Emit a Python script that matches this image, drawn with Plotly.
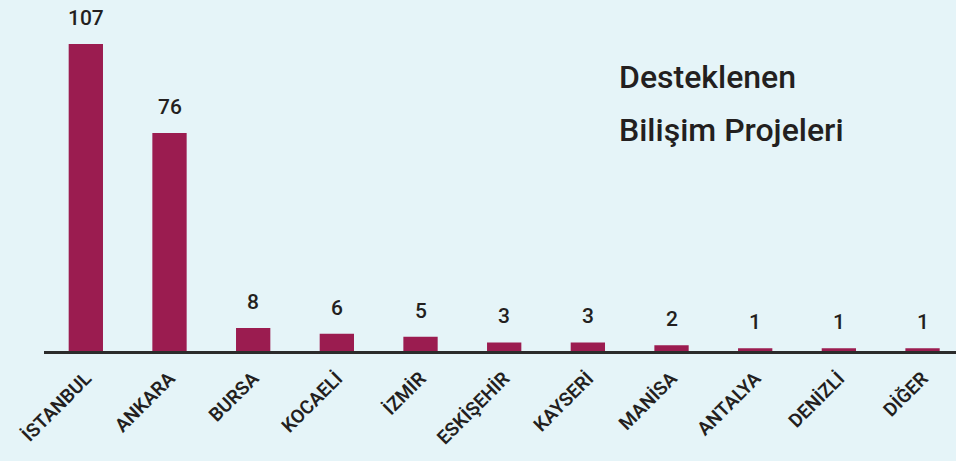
import plotly.graph_objects as go

cities = ["İSTANBUL", "ANKARA", "BURSA", "KOCAELİ", "İZMİR", "ESKİŞEHİR",
          "KAYSERİ", "MANİSA", "ANTALYA", "DENİZLİ", "DİĞER"]
projects = [107, 76, 8, 6, 5, 3, 3, 2, 1, 1, 1]

title_lines = ["Desteklenen", "Bilişim Projeleri"]

BG = "#e5f4f8"
BAR = "#9b1c50"
TXT = "#231f20"
FONT = "Roboto"

fig = go.Figure()
fig.add_trace(go.Bar(
    x=list(range(len(cities))), y=projects,
    marker=dict(color=BAR, line=dict(width=0)),
    width=0.41,
    hoverinfo="skip",
))

for i, v in enumerate(projects):
    fig.add_annotation(x=i, y=v, text=str(v), showarrow=False,
                       yanchor="bottom", yshift=12,
                       font=dict(family=FONT, size=21, color=TXT, weight=500))

for j, line in enumerate(title_lines):
    fig.add_annotation(
        x=(617 - 44) / (956 - 44), xref="paper", xanchor="left",
        y=(351 - (77 + 53 * j)) / 351, yref="paper", yanchor="middle",
        text=line, showarrow=False,
        font=dict(family=FONT, size=32, color=TXT, weight=500),
    )

fig.update_layout(
    width=956, height=461,
    paper_bgcolor=BG, plot_bgcolor=BG,
    margin=dict(l=44, r=0, t=0, b=110),
    showlegend=False,
    xaxis=dict(
        range=[-0.5, 10.4],
        tickmode="array",
        tickvals=list(range(len(cities))),
        ticktext=cities,
        tickangle=-45,
        ticks="",
        ticklabelstandoff=6,
        tickfont=dict(family=FONT, size=19, color=TXT, weight=600),
        showline=True, linecolor="#2b2b2b", linewidth=2.5,
        showgrid=False, zeroline=False, fixedrange=True,
    ),
    yaxis=dict(range=[0, 122.3], visible=False, showgrid=False, zeroline=False,
               fixedrange=True),
)

fig.write_html("out.html", config={"displayModeBar": False},
               post_script="document.body.style.margin='0';document.body.style.background='%s';" % BG)
